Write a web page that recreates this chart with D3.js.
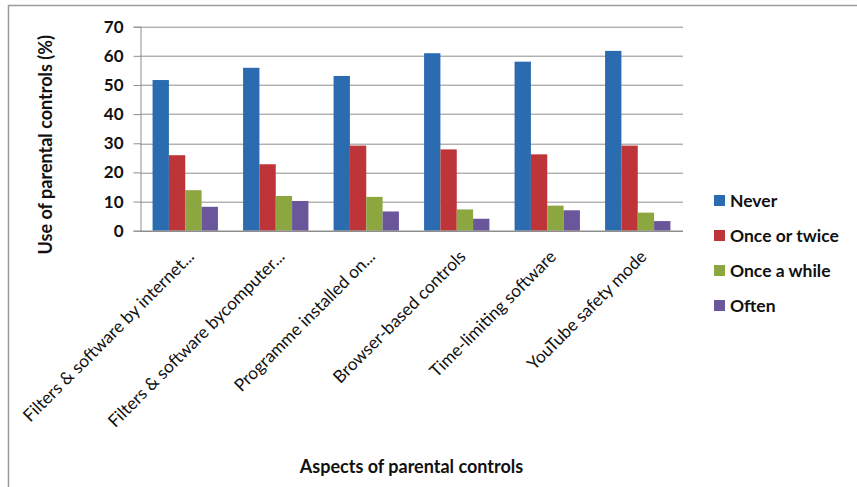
<!DOCTYPE html>
<html>
<head>
<meta charset="utf-8">
<script src="https://cdn.jsdelivr.net/npm/d3@7"></script>
<style>
  body { margin: 0; background: #fff; }
  text { font-family: Lato, "Open Sans", sans-serif; fill: #111; }
</style>
</head>
<body>
<script>
var width = 857,
    height = 487;

// data
var categories = [
  "Filters & software by internet...",
  "Filters & software bycomputer...",
  "Programme installed on...",
  "Browser-based controls",
  "Time-limiting software",
  "YouTube safety mode"
];
var seriesNames = ["Never", "Once or twice", "Once a while", "Often"];
var never = [51.7, 55.9, 53.1, 60.9, 58.0, 61.7];
var onceOrTwice = [25.9, 22.8, 29.2, 27.9, 26.2, 29.2];
var onceAWhile = [13.9, 11.9, 11.6, 7.3, 8.6, 6.2];
var often = [8.2, 10.2, 6.6, 4.1, 7.0, 3.3];
var yTicks = [0, 10, 20, 30, 40, 50, 60, 70];
var colors = ["#2b6cb0", "#bd3538", "#8ca640", "#6a569a"];

var series = [never, onceOrTwice, onceAWhile, often];

var margin = {left: 140, right: 174, top: 26.7, bottom: 256.3};
var plotW = width - margin.left - margin.right,
    plotH = height - margin.top - margin.bottom;

var svg = d3.select("body")
    .append("svg")
    .attr("width", width)
    .attr("height", height);

// outer frame, only top and left edges show
svg.append("line")
    .attr("x1", 8).attr("x2", width).attr("y1", 5.5).attr("y2", 5.5)
    .attr("stroke", "#9a9a9a").attr("stroke-width", 1.5);
svg.append("line")
    .attr("x1", 8.5).attr("x2", 8.5).attr("y1", 5).attr("y2", height)
    .attr("stroke", "#9a9a9a").attr("stroke-width", 1.5);

var g = svg.append("g")
    .attr("transform", "translate(" + margin.left + "," + margin.top + ")");

var x0 = d3.scaleBand()
    .domain(categories)
    .range([0, plotW])
    .paddingInner(0.278)
    .paddingOuter(0.139);

var x1 = d3.scaleBand()
    .domain(d3.range(seriesNames.length))
    .range([0, x0.bandwidth()]);

var y = d3.scaleLinear()
    .domain([0, 70])
    .range([plotH, 0]);

// gridlines
g.selectAll(".grid")
    .data(yTicks.filter(d => d > 0))
    .enter().append("line")
    .attr("x1", 0).attr("x2", plotW)
    .attr("y1", d => Math.round(y(d)) + 0.5)
    .attr("y2", d => Math.round(y(d)) + 0.5)
    .attr("stroke", "#8e8e8e");

// y axis
var yAxis = g.append("g")
    .attr("transform", "translate(0.5,0)")
    .call(d3.axisLeft(y).tickValues(yTicks).tickSize(7).tickPadding(10));
yAxis.select(".domain").attr("stroke", "#8e8e8e");
yAxis.selectAll(".tick line").attr("stroke", "#8e8e8e");
yAxis.selectAll(".tick text")
    .style("font-size", "17px")
    .style("font-weight", "bold")
    .style("font-family", "Lato, sans-serif")
    .attr("fill", "#222");

// bars
var groups = g.selectAll(".cat")
    .data(categories)
    .enter().append("g")
    .attr("transform", d => "translate(" + x0(d) + ",0)");

groups.selectAll("rect")
    .data((d, i) => series.map((s, k) => ({k: k, v: s[i]})))
    .enter().append("rect")
    .attr("x", d => x1(d.k))
    .attr("width", x1.bandwidth())
    .attr("y", d => y(d.v))
    .attr("height", d => plotH - y(d.v))
    .attr("fill", d => colors[d.k]);

// x axis line
g.append("line")
    .attr("x1", 0).attr("x2", plotW)
    .attr("y1", plotH + 0.5).attr("y2", plotH + 0.5)
    .attr("stroke", "#8e8e8e").attr("stroke-width", 1.5);

// rotated category labels
g.selectAll(".catLabel")
    .data(categories)
    .enter().append("text")
    .attr("text-anchor", "end")
    .attr("transform", d => "translate(" + (x0(d) + x0.bandwidth() / 2 + 10) + "," + (plotH + 27) + ") rotate(-45)")
    .style("font-size", "17.3px")
    .text(d => d);

// axis titles
svg.append("text")
    .attr("text-anchor", "middle")
    .attr("transform", "translate(52," + (margin.top + plotH / 2 + 16) + ") rotate(-90)")
    .style("font-size", "18px")
    .style("font-weight", "bold")
    .text("Use of parental controls (%)");

svg.append("text")
    .attr("text-anchor", "middle")
    .attr("x", margin.left + plotW / 2)
    .attr("y", 473)
    .style("font-size", "18px")
    .style("font-weight", "bold")
    .text("Aspects of parental controls");

// legend
var legend = svg.append("g")
    .attr("transform", "translate(714,195)");

var item = legend.selectAll(".item")
    .data(seriesNames)
    .enter().append("g")
    .attr("transform", (d, i) => "translate(0," + i * 35 + ")");

item.append("rect")
    .attr("width", 11).attr("height", 11)
    .attr("fill", (d, i) => colors[i]);

item.append("text")
    .attr("x", 16)
    .attr("y", 11.5)
    .style("font-size", "17.5px")
    .style("font-weight", "bold")
    .text(d => d);
</script>
</body>
</html>
